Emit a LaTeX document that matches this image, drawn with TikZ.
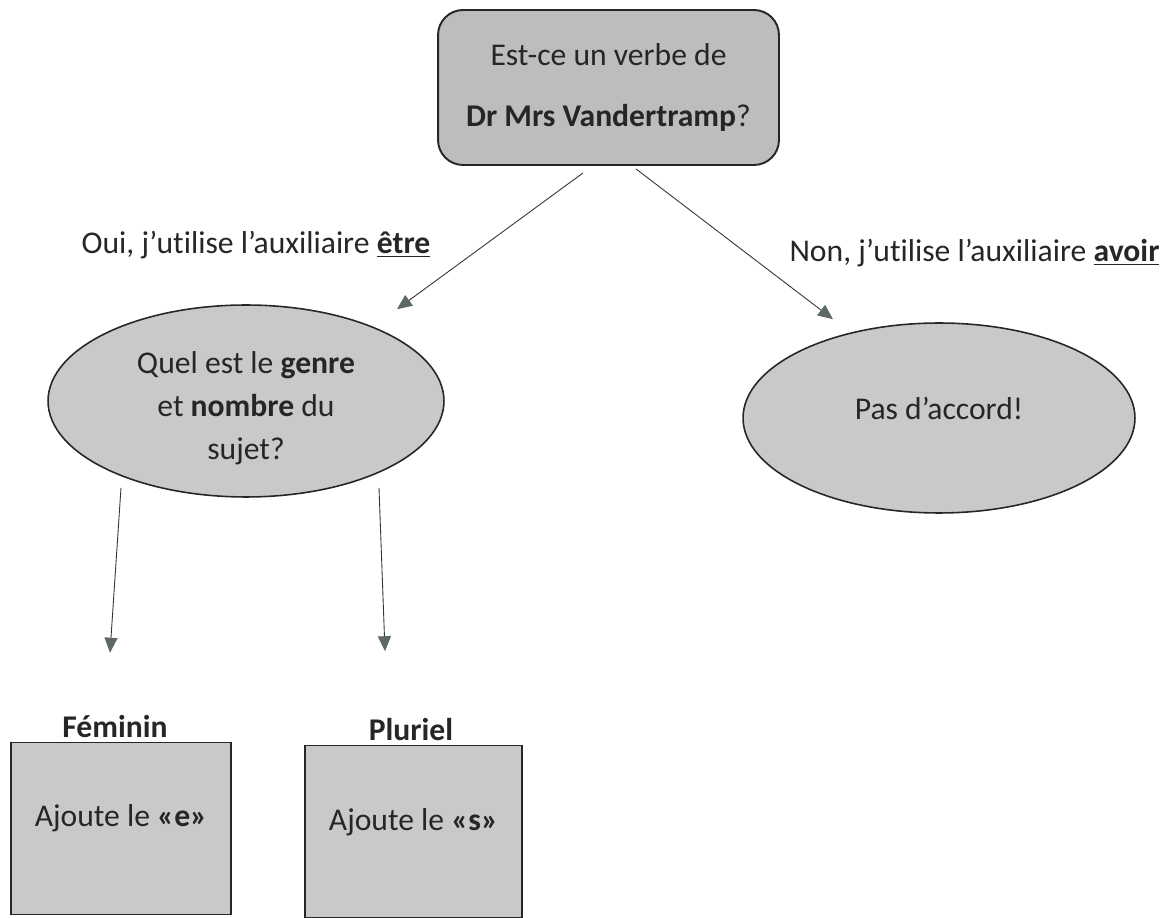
\documentclass[tikz,border=0pt]{standalone}
\usepackage{fontspec}
\setmainfont{Carlito}[Ligatures={NoCommon}]
\usetikzlibrary{shapes.geometric,arrows.meta,calc}

\definecolor{boxgray}{RGB}{188,189,189}
\definecolor{ovalgray}{RGB}{200,201,201}
\definecolor{tipgray}{RGB}{92,104,98}

\newcommand{\shiftup}[2]{\raisebox{#1}[\height][\depth]{#2}}

\begin{document}
\begin{tikzpicture}[
    x=0.02cm, y=-0.02cm,
    every node/.style={font=\fontsize{18}{24.5}\selectfont, text=black!85},
    question/.style={rectangle, rounded corners=0.5cm, fill=boxgray, draw=black!85, line width=1.1pt,
        minimum width=6.82cm, minimum height=3.1cm, align=center, inner sep=0pt},
    oval/.style={ellipse, fill=ovalgray, draw=black!85, line width=0.9pt, align=center, inner sep=0pt},
    rule/.style={rectangle, fill=ovalgray, draw=black!85, line width=0.9pt,
        minimum width=4.4cm, minimum height=3.44cm, inner sep=0pt},
    choice/.style={align=center},
    arrow/.style={-{Triangle[length=0.3cm, width=0.26cm, color=tipgray]}, line width=0.5pt, black!80}
]
\useasboundingbox (0,0) rectangle (1170,918);

\node[question] (verbe) at (608.5,87.5) {Est-ce un verbe de\\[10pt]\textbf{Dr Mrs Vandertramp}?};

\node[choice] (oui) at (256,245) {Oui, j’utilise l’auxiliaire \underline{\textbf{être}}};
\node[choice] (non) at (974.5,253) {Non, j’utilise l’auxiliaire \underline{\textbf{avoir}}};

\node[oval, minimum width=7.92cm, minimum height=3.84cm] (genre) at (246,401)
    {\shiftup{-0.14cm}{\parbox{5cm}{\centering Quel est le \textbf{genre}\\ et \textbf{nombre} du\\ sujet?}}};
\node[oval, minimum width=7.84cm, minimum height=3.8cm] (accord) at (939,418)
    {\shiftup{0.2cm}{Pas d’accord!}};

\node[rule] (fem) at (121,828.5) {\shiftup{0.2cm}{Ajoute le \textbf{«e»}}};
\node[rule, minimum width=4.34cm] (plur) at (413.5,831.5) {\shiftup{0.18cm}{Ajoute le \textbf{«s»}}};

\node (femlab) at (115,727) {\textbf{Féminin}};
\node (plurlab) at (411,730) {\textbf{Pluriel}};

\draw[arrow] ($(verbe.south)+(-25.5,7)$) -- ($(genre.north)+(151,5)$);
\draw[arrow] ($(verbe.south)+(27.5,3)$) -- ($(accord.north)+(-106,-3)$);
\draw[arrow] ($(genre.south)+(-125,-10)$) -- ($(fem.north)+(-11,-89)$);
\draw[arrow] ($(genre.south)+(133,-10)$) -- ($(plur.north)+(-28.5,-93.5)$);

\end{tikzpicture}
\end{document}
